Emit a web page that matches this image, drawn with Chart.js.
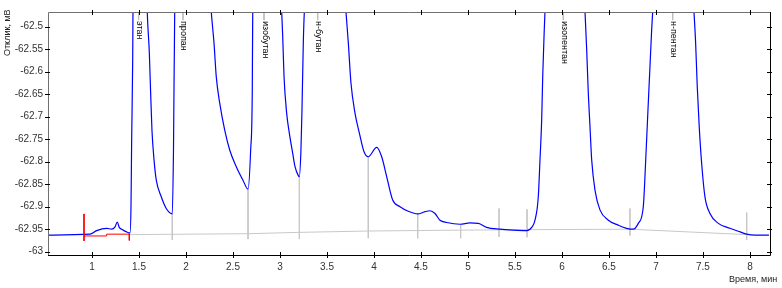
<!DOCTYPE html>
<html>
<head>
<meta charset="utf-8">
<script src="https://cdn.jsdelivr.net/npm/chart.js@4"></script>
<style>
  html, body { margin: 0; padding: 0; background: #fff; }
  #chart { display: block; }
</style>
</head>
<body>
<canvas id="chart" width="782" height="288"></canvas>
<script>
// chromatogram signal (time, min / response, mV) - peaks run off the top
const timeMin = [
  0.532, 0.979, 1.050, 1.156, 1.210, 1.245, 1.269, 1.290, 1.316, 1.369, 1.404,
  1.415, 1.422, 1.433, 1.436, 1.51,
  1.588, 1.610, 1.624, 1.638, 1.660, 1.684, 1.737, 1.790, 1.854,
  1.867, 1.880, 2.07,
  2.269, 2.298, 2.322, 2.359, 2.412, 2.465, 2.535, 2.606, 2.660,
  2.688, 2.705, 2.710, 2.86,
  3.018, 3.029, 3.043, 3.071, 3.099, 3.135, 3.160, 3.195, 3.206,
  3.223, 3.234, 3.248, 3.259, 3.48,
  3.702, 3.727, 3.755, 3.798, 3.844, 3.894, 3.939, 4.029, 4.082, 4.135, 4.199, 4.277, 4.365,
  4.465, 4.543, 4.596, 4.649, 4.702, 4.773, 4.915, 5.021, 5.110, 5.199, 5.340, 5.482, 5.624,
  5.678, 5.713, 5.748, 5.766, 5.784, 5.795, 5.809, 5.819, 6.03,
  6.245, 6.263, 6.280, 6.298, 6.316, 6.351, 6.404, 6.493, 6.599, 6.688, 6.759,
  6.812, 6.865, 6.894, 6.918, 6.936, 6.954, 6.965, 7.19,
  7.404, 7.422, 7.439, 7.460, 7.486, 7.521, 7.574, 7.663, 7.787, 7.894, 7.965, 8.053, 8.202
];
const responseMv = [
  -62.963, -62.961, -62.953, -62.948, -62.950, -62.945, -62.934, -62.946, -62.950, -62.956, -62.958,
  -62.900, -62.752, -62.574, -62.467, -61.8,
  -62.467, -62.558, -62.647, -62.730, -62.796, -62.841, -62.878, -62.904, -62.916,
  -62.774, -62.467, -61.8,
  -62.467, -62.536, -62.611, -62.670, -62.730, -62.774, -62.811, -62.841, -62.861,
  -62.774, -62.647, -62.467, -61.8,
  -62.467, -62.522, -62.611, -62.692, -62.736, -62.781, -62.811, -62.831, -62.833,
  -62.774, -62.685, -62.536, -62.467, -61.8,
  -62.467, -62.536, -62.625, -62.692, -62.736, -62.778, -62.789, -62.768, -62.789, -62.833, -62.885, -62.900, -62.910,
  -62.916, -62.911, -62.909, -62.915, -62.930, -62.935, -62.939, -62.936, -62.937, -62.946, -62.950, -62.952, -62.953,
  -62.946, -62.930, -62.878, -62.796, -62.707, -62.611, -62.522, -62.467, -61.8,
  -62.467, -62.552, -62.648, -62.722, -62.796, -62.863, -62.907, -62.930, -62.941, -62.948, -62.950,
  -62.937, -62.900, -62.781, -62.670, -62.589, -62.507, -62.467, -61.8,
  -62.467, -62.537, -62.633, -62.722, -62.804, -62.878, -62.915, -62.937, -62.948, -62.956, -62.961, -62.963, -62.963
];

// integration baseline
const baseTime = [1.394, 2.660, 3.202, 3.947, 4.915, 5.628, 6.723, 7.965];
const baseResp = [-62.962, -62.960, -62.957, -62.954, -62.952, -62.951, -62.950, -62.962];

// peak boundary drop lines
const dropTime = [1.854, 2.660, 3.206, 3.939, 4.465, 4.922, 5.330, 5.628, 6.723, 7.965];
const dropTop = [-62.916, -62.861, -62.832, -62.790, -62.916, -62.941, -62.904, -62.906, -62.904, -62.913];
const dropBottom = [-62.974, -62.972, -62.972, -62.970, -62.970, -62.970, -62.967, -62.968, -62.964, -62.974];

// red start marker (null = break)
const redTime = [0.915, 0.915, null, 0.915, 1.156, 1.156, 1.397, null, 1.397, 1.397];
const redResp = [-62.916, -62.976, null, -62.965, -62.965, -62.961, -62.961, null, -62.959, -62.975];

// peak names
const peakNames = ['этан', 'пропан', 'изобутан', 'н-бутан', 'изопентан', 'н-пентан'];
const peakTime = [1.496, 1.968, 2.830, 3.401, 6.014, 7.178];

const xTicks = [1, 1.5, 2, 2.5, 3, 3.5, 4, 4.5, 5, 5.5, 6, 6.5, 7, 7.5, 8];
const yTicks = [-63, -62.95, -62.9, -62.85, -62.8, -62.75, -62.7, -62.65, -62.6, -62.55, -62.5];

const X_MIN = 0.532, X_MAX = 8.213;
const Y_MIN = -63.0073, Y_MAX = -62.4673;

const pairs = (xs, ys) => xs.map((x, i) => (x === null ? { x: NaN, y: null } : { x: x, y: ys[i] }));

const drops = [];
dropTime.forEach((t, i) => {
  drops.push({ x: t, y: dropTop[i] }, { x: t, y: dropBottom[i] }, { x: NaN, y: null });
});
const labelTicks = [];
peakTime.forEach(t => {
  labelTicks.push({ x: t, y: Y_MAX }, { x: t, y: Y_MAX - 0.018 }, { x: NaN, y: null });
});

const FONT = "'Liberation Sans', Arial, sans-serif";

const framePlugin = {
  id: 'frame',
  afterDraw(chart) {
    const { ctx, chartArea: a } = chart;
    const xs = chart.scales.x, ys = chart.scales.y;
    ctx.save();
    ctx.lineWidth = 1;
    // frame
    ctx.strokeStyle = '#707070';
    ctx.beginPath();
    ctx.moveTo(a.left + 0.5, a.bottom); ctx.lineTo(a.left + 0.5, a.top + 0.5);
    ctx.lineTo(a.right, a.top + 0.5);
    ctx.stroke();
    ctx.strokeStyle = '#000';
    ctx.beginPath();
    ctx.moveTo(a.left, a.bottom + 0.5); ctx.lineTo(a.right + 0.5, a.bottom + 0.5);
    ctx.lineTo(a.right + 0.5, a.top);
    ctx.stroke();
    // tick marks
    ctx.beginPath();
    xTicks.forEach(v => {
      const px = Math.round(xs.getPixelForValue(v)) + 0.5;
      ctx.moveTo(px, a.bottom - 3); ctx.lineTo(px, a.bottom + 3);
      ctx.moveTo(px, a.top - 2); ctx.lineTo(px, a.top + 3);
    });
    yTicks.forEach(v => {
      const py = Math.round(ys.getPixelForValue(v)) + 0.5;
      ctx.moveTo(a.left - 3, py); ctx.lineTo(a.left + 2, py);
      ctx.moveTo(a.right - 3, py); ctx.lineTo(a.right + 2, py);
    });
    ctx.stroke();

    // peak names, vertical
    ctx.fillStyle = '#000';
    ctx.font = '9px ' + FONT;
    ctx.textBaseline = 'middle';
    ctx.textAlign = 'left';
    peakNames.forEach((name, i) => {
      const px = xs.getPixelForValue(peakTime[i]);
      ctx.save();
      ctx.translate(px + 1, a.top + 9);
      ctx.rotate(Math.PI / 2);
      ctx.fillText(name, 0, 0);
      ctx.restore();
    });

    // axis titles
    ctx.fillStyle = '#222';
    ctx.font = '9px ' + FONT;
    ctx.save();
    ctx.translate(8, a.top + 44);
    ctx.rotate(-Math.PI / 2);
    ctx.textAlign = 'left';
    ctx.fillText('Отклик, мВ', 0, 0);
    ctx.restore();
    ctx.textAlign = 'left';
    ctx.fillText('Время, мин', 729, 280);
    ctx.restore();
  }
};

new Chart(document.getElementById('chart'), {
  type: 'scatter',
  data: {
    datasets: [
      {
        data: pairs(redTime, redResp),
        showLine: true,
        borderColor: '#ff0000',
        borderWidth: 1,
        pointRadius: 0,
        spanGaps: false,
        order: -1
      },
      {
        data: pairs(timeMin, responseMv),
        showLine: true,
        borderColor: '#0000ff',
        borderWidth: 1.2,
        pointRadius: 0,
        cubicInterpolationMode: 'monotone',
        order: 0
      },
      {
        data: pairs(baseTime, baseResp),
        showLine: true,
        borderColor: '#c8c8c8',
        borderWidth: 1,
        pointRadius: 0,
        order: 2
      },
      {
        data: drops,
        showLine: true,
        borderColor: '#c8c8c8',
        borderWidth: 1,
        pointRadius: 0,
        spanGaps: false,
        order: 3
      },
      {
        data: labelTicks,
        showLine: true,
        borderColor: '#bdbdbd',
        borderWidth: 1,
        pointRadius: 0,
        spanGaps: false,
        order: 3
      }
    ]
  },
  options: {
    responsive: false,
    animation: false,
    layout: { padding: { left: 0, top: 12, right: 12, bottom: 0 } },
    plugins: {
      legend: { display: false },
      tooltip: { enabled: false }
    },
    scales: {
      x: {
        type: 'linear',
        min: X_MIN,
        max: X_MAX,
        afterBuildTicks: s => { s.ticks = xTicks.map(v => ({ value: v })); },
        afterFit: s => { s.height = 33; },
        grid: { display: false, drawTicks: false },
        border: { display: false },
        ticks: {
          padding: 6,
          maxRotation: 0,
          autoSkip: false,
          color: '#333',
          font: { family: FONT, size: 10 },
          callback: v => String(v)
        }
      },
      y: {
        type: 'linear',
        min: Y_MIN,
        max: Y_MAX,
        afterBuildTicks: s => { s.ticks = yTicks.map(v => ({ value: v })); },
        afterFit: s => { s.width = 48; },
        grid: { display: false, drawTicks: false },
        border: { display: false },
        ticks: {
          padding: 5,
          autoSkip: false,
          color: '#333',
          font: { family: FONT, size: 10 },
          callback: v => String(v)
        }
      }
    }
  },
  plugins: [framePlugin]
});
</script>
</body>
</html>
